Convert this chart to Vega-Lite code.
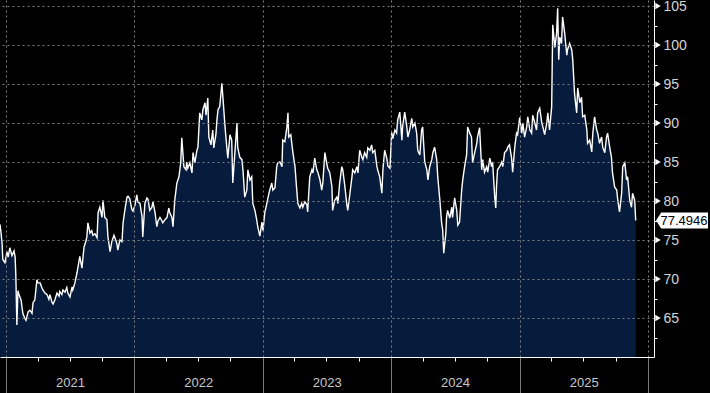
{
  "$schema": "https://vega.github.io/schema/vega-lite/v6.json",
  "width": 654,
  "height": 357,
  "padding": {"left": 0, "top": 0, "right": 56, "bottom": 36},
  "autosize": "none",
  "background": "#000000",
  "config": {
    "view": {"stroke": null},
    "axis": {"labelFont": "Liberation Sans", "labelColor": "#d4d4d4", "labelFontSize": 14}
  },
  "datasets": {
    "series": [
      {"date":"2020-12-15","value":77.0},{"date":"2020-12-18","value":75.9},{"date":"2020-12-21","value":74.5},{"date":"2020-12-23","value":72.5},{"date":"2020-12-29","value":72.1},
      {"date":"2021-01-04","value":73.5},{"date":"2021-01-07","value":72.8},{"date":"2021-01-12","value":74.0},{"date":"2021-01-18","value":73.0},{"date":"2021-01-24","value":73.6},{"date":"2021-01-27","value":72.8},{"date":"2021-01-29","value":70.5},
      {"date":"2021-02-01","value":64.1},{"date":"2021-02-04","value":68.5},{"date":"2021-02-07","value":68.0},{"date":"2021-02-13","value":67.3},{"date":"2021-02-18","value":65.6},{"date":"2021-02-24","value":64.9},{"date":"2021-02-27","value":64.7},
      {"date":"2021-03-05","value":65.8},{"date":"2021-03-10","value":66.0},{"date":"2021-03-16","value":65.6},{"date":"2021-03-19","value":67.0},{"date":"2021-03-24","value":67.3},{"date":"2021-03-30","value":69.9},
      {"date":"2021-04-02","value":69.5},{"date":"2021-04-08","value":69.5},{"date":"2021-04-13","value":68.9},{"date":"2021-04-16","value":68.6},{"date":"2021-04-22","value":68.2},{"date":"2021-04-28","value":68.0},
      {"date":"2021-05-03","value":67.4},{"date":"2021-05-06","value":68.0},{"date":"2021-05-12","value":67.0},{"date":"2021-05-15","value":66.8},{"date":"2021-05-20","value":67.3},{"date":"2021-05-26","value":68.2},
      {"date":"2021-06-01","value":67.8},{"date":"2021-06-03","value":68.4},{"date":"2021-06-09","value":68.0},{"date":"2021-06-12","value":68.6},{"date":"2021-06-18","value":68.3},{"date":"2021-06-23","value":68.9},{"date":"2021-06-26","value":68.2},
      {"date":"2021-07-02","value":67.7},{"date":"2021-07-08","value":69.0},{"date":"2021-07-10","value":68.6},{"date":"2021-07-16","value":69.5},{"date":"2021-07-22","value":70.8},{"date":"2021-07-28","value":72.4},{"date":"2021-07-30","value":72.9},
      {"date":"2021-08-05","value":71.4},{"date":"2021-08-11","value":74.1},{"date":"2021-08-16","value":74.8},{"date":"2021-08-19","value":75.4},{"date":"2021-08-22","value":77.2},{"date":"2021-08-28","value":75.9},
      {"date":"2021-09-02","value":76.2},{"date":"2021-09-05","value":75.6},{"date":"2021-09-11","value":75.8},{"date":"2021-09-17","value":75.3},{"date":"2021-09-20","value":78.5},{"date":"2021-09-25","value":79.2},
      {"date":"2021-10-01","value":77.9},{"date":"2021-10-04","value":80.1},{"date":"2021-10-09","value":77.9},{"date":"2021-10-15","value":77.6},{"date":"2021-10-18","value":75.4},{"date":"2021-10-24","value":73.5},{"date":"2021-10-29","value":74.8},
      {"date":"2021-11-04","value":75.6},{"date":"2021-11-10","value":74.9},{"date":"2021-11-13","value":74.4},{"date":"2021-11-15","value":73.7},{"date":"2021-11-21","value":75.0},{"date":"2021-11-27","value":74.8},{"date":"2021-11-30","value":77.2},
      {"date":"2021-12-05","value":78.8},{"date":"2021-12-11","value":80.5},{"date":"2021-12-14","value":80.6},{"date":"2021-12-19","value":80.3},{"date":"2021-12-25","value":78.9},{"date":"2021-12-28","value":78.7},
      {"date":"2022-01-03","value":79.5},{"date":"2022-01-08","value":80.8},{"date":"2022-01-11","value":79.9},{"date":"2022-01-17","value":79.7},{"date":"2022-01-23","value":78.0},{"date":"2022-01-25","value":75.4},{"date":"2022-01-31","value":79.7},
      {"date":"2022-02-06","value":80.4},{"date":"2022-02-09","value":80.2},{"date":"2022-02-14","value":78.8},{"date":"2022-02-20","value":79.2},{"date":"2022-02-23","value":79.9},
      {"date":"2022-03-01","value":78.5},{"date":"2022-03-06","value":76.7},{"date":"2022-03-09","value":77.4},{"date":"2022-03-15","value":77.9},{"date":"2022-03-20","value":77.5},{"date":"2022-03-23","value":77.2},{"date":"2022-03-29","value":77.6},
      {"date":"2022-04-04","value":77.9},{"date":"2022-04-09","value":79.1},{"date":"2022-04-12","value":78.5},{"date":"2022-04-18","value":77.9},{"date":"2022-04-21","value":76.7},{"date":"2022-04-26","value":80.1},
      {"date":"2022-05-02","value":82.3},{"date":"2022-05-08","value":83.1},{"date":"2022-05-13","value":84.9},{"date":"2022-05-16","value":88.1},{"date":"2022-05-22","value":84.4},{"date":"2022-05-28","value":84.0},{"date":"2022-05-30","value":85.0},
      {"date":"2022-06-02","value":84.2},{"date":"2022-06-08","value":84.9},{"date":"2022-06-14","value":83.6},{"date":"2022-06-17","value":86.2},{"date":"2022-06-22","value":84.9},{"date":"2022-06-28","value":86.5},
      {"date":"2022-07-01","value":86.9},{"date":"2022-07-06","value":91.3},{"date":"2022-07-12","value":90.4},{"date":"2022-07-15","value":91.7},{"date":"2022-07-21","value":92.6},{"date":"2022-07-24","value":91.0},{"date":"2022-07-29","value":93.2},
      {"date":"2022-08-01","value":88.2},{"date":"2022-08-07","value":87.2},{"date":"2022-08-12","value":89.1},{"date":"2022-08-15","value":86.8},{"date":"2022-08-21","value":88.5},{"date":"2022-08-24","value":90.4},{"date":"2022-08-27","value":91.7},
      {"date":"2022-09-01","value":92.1},{"date":"2022-09-07","value":95.1},{"date":"2022-09-10","value":93.3},{"date":"2022-09-16","value":89.5},{"date":"2022-09-21","value":86.9},{"date":"2022-09-24","value":85.5},{"date":"2022-09-30","value":88.5},
      {"date":"2022-10-05","value":87.8},{"date":"2022-10-08","value":82.3},{"date":"2022-10-14","value":86.2},{"date":"2022-10-20","value":90.0},{"date":"2022-10-22","value":86.9},{"date":"2022-10-28","value":85.6},
      {"date":"2022-11-03","value":85.3},{"date":"2022-11-06","value":84.0},{"date":"2022-11-11","value":80.5},{"date":"2022-11-17","value":81.4},{"date":"2022-11-20","value":84.0},{"date":"2022-11-26","value":82.7},
      {"date":"2022-12-01","value":83.1},{"date":"2022-12-04","value":79.7},{"date":"2022-12-10","value":78.8},{"date":"2022-12-15","value":77.6},{"date":"2022-12-18","value":76.7},{"date":"2022-12-24","value":75.5},{"date":"2022-12-30","value":77.3},
      {"date":"2023-01-02","value":76.2},{"date":"2023-01-07","value":78.5},{"date":"2023-01-13","value":79.7},{"date":"2023-01-16","value":80.4},{"date":"2023-01-21","value":81.4},{"date":"2023-01-27","value":82.3},{"date":"2023-01-30","value":81.4},
      {"date":"2023-02-05","value":81.7},{"date":"2023-02-10","value":84.4},{"date":"2023-02-13","value":84.9},{"date":"2023-02-19","value":85.0},{"date":"2023-02-25","value":84.4},{"date":"2023-02-27","value":87.8},
      {"date":"2023-03-05","value":87.6},{"date":"2023-03-11","value":89.5},{"date":"2023-03-14","value":91.3},{"date":"2023-03-16","value":88.2},{"date":"2023-03-22","value":88.5},{"date":"2023-03-28","value":86.2},
      {"date":"2023-04-03","value":84.4},{"date":"2023-04-08","value":81.4},{"date":"2023-04-11","value":79.7},{"date":"2023-04-17","value":79.1},{"date":"2023-04-22","value":79.7},{"date":"2023-04-25","value":79.2},
      {"date":"2023-05-01","value":79.9},{"date":"2023-05-07","value":79.5},{"date":"2023-05-09","value":78.6},{"date":"2023-05-15","value":83.1},{"date":"2023-05-21","value":84.0},{"date":"2023-05-24","value":83.6},{"date":"2023-05-29","value":85.5},
      {"date":"2023-06-04","value":84.0},{"date":"2023-06-07","value":83.7},{"date":"2023-06-13","value":82.7},{"date":"2023-06-18","value":81.4},{"date":"2023-06-21","value":82.3},{"date":"2023-06-27","value":86.2},
      {"date":"2023-07-02","value":84.9},{"date":"2023-07-05","value":84.2},{"date":"2023-07-11","value":83.6},{"date":"2023-07-17","value":81.8},{"date":"2023-07-19","value":78.8},{"date":"2023-07-25","value":80.1},{"date":"2023-07-31","value":80.5},
      {"date":"2023-08-03","value":79.7},{"date":"2023-08-08","value":82.3},{"date":"2023-08-14","value":84.4},{"date":"2023-08-17","value":84.0},{"date":"2023-08-23","value":81.8},{"date":"2023-08-28","value":79.7},{"date":"2023-08-31","value":78.8},
      {"date":"2023-09-06","value":80.9},{"date":"2023-09-12","value":83.1},{"date":"2023-09-14","value":84.0},{"date":"2023-09-20","value":83.6},{"date":"2023-09-26","value":84.4},{"date":"2023-09-29","value":83.6},
      {"date":"2023-10-04","value":86.5},{"date":"2023-10-10","value":85.6},{"date":"2023-10-13","value":85.3},{"date":"2023-10-18","value":86.2},{"date":"2023-10-24","value":85.6},{"date":"2023-10-27","value":86.8},
      {"date":"2023-11-02","value":86.5},{"date":"2023-11-07","value":87.2},{"date":"2023-11-10","value":86.2},{"date":"2023-11-16","value":86.5},{"date":"2023-11-22","value":84.4},{"date":"2023-11-24","value":84.0},{"date":"2023-11-30","value":83.1},
      {"date":"2023-12-06","value":81.0},{"date":"2023-12-09","value":84.0},{"date":"2023-12-14","value":86.5},{"date":"2023-12-20","value":85.5},{"date":"2023-12-23","value":84.5},{"date":"2023-12-29","value":84.2},
      {"date":"2024-01-03","value":88.8},{"date":"2024-01-06","value":88.0},{"date":"2024-01-12","value":89.1},{"date":"2024-01-17","value":88.7},{"date":"2024-01-20","value":90.4},{"date":"2024-01-26","value":91.4},
      {"date":"2024-02-01","value":87.8},{"date":"2024-02-03","value":89.5},{"date":"2024-02-09","value":91.4},{"date":"2024-02-15","value":89.5},{"date":"2024-02-18","value":88.2},{"date":"2024-02-23","value":89.1},{"date":"2024-02-29","value":90.6},
      {"date":"2024-03-03","value":89.5},{"date":"2024-03-09","value":90.0},{"date":"2024-03-14","value":88.7},{"date":"2024-03-17","value":86.5},{"date":"2024-03-23","value":85.9},{"date":"2024-03-28","value":89.1},{"date":"2024-03-31","value":89.5},
      {"date":"2024-04-06","value":85.0},{"date":"2024-04-12","value":84.0},{"date":"2024-04-15","value":82.7},{"date":"2024-04-20","value":84.4},{"date":"2024-04-26","value":85.3},{"date":"2024-04-29","value":86.2},
      {"date":"2024-05-04","value":86.9},{"date":"2024-05-10","value":85.3},{"date":"2024-05-13","value":83.1},{"date":"2024-05-19","value":80.1},{"date":"2024-05-24","value":77.2},{"date":"2024-05-27","value":76.3},{"date":"2024-05-30","value":73.3},
      {"date":"2024-06-05","value":75.9},{"date":"2024-06-07","value":77.9},{"date":"2024-06-10","value":78.8},{"date":"2024-06-16","value":77.8},{"date":"2024-06-22","value":79.2},{"date":"2024-06-24","value":77.9},{"date":"2024-06-30","value":80.4},
      {"date":"2024-07-06","value":78.8},{"date":"2024-07-09","value":76.9},{"date":"2024-07-14","value":77.3},{"date":"2024-07-20","value":81.4},{"date":"2024-07-23","value":82.7},{"date":"2024-07-29","value":84.6},
      {"date":"2024-08-03","value":85.9},{"date":"2024-08-06","value":89.5},{"date":"2024-08-12","value":88.7},{"date":"2024-08-17","value":88.2},{"date":"2024-08-20","value":84.9},{"date":"2024-08-26","value":86.2},
      {"date":"2024-09-01","value":87.4},{"date":"2024-09-03","value":88.2},{"date":"2024-09-09","value":89.4},{"date":"2024-09-15","value":84.0},{"date":"2024-09-18","value":85.3},{"date":"2024-09-23","value":83.7},{"date":"2024-09-29","value":84.4},
      {"date":"2024-10-02","value":83.7},{"date":"2024-10-08","value":85.5},{"date":"2024-10-13","value":84.4},{"date":"2024-10-16","value":85.0},{"date":"2024-10-22","value":80.5},{"date":"2024-10-25","value":79.1},{"date":"2024-10-27","value":81.8},{"date":"2024-10-30","value":84.0},
      {"date":"2024-11-05","value":84.4},{"date":"2024-11-11","value":85.0},{"date":"2024-11-14","value":84.4},{"date":"2024-11-19","value":86.2},{"date":"2024-11-25","value":86.5},{"date":"2024-11-28","value":86.9},
      {"date":"2024-12-03","value":87.2},{"date":"2024-12-09","value":85.5},{"date":"2024-12-12","value":83.7},{"date":"2024-12-18","value":86.9},{"date":"2024-12-23","value":88.7},{"date":"2024-12-26","value":88.5},
      {"date":"2025-01-01","value":90.7},{"date":"2025-01-07","value":88.7},{"date":"2025-01-10","value":90.0},{"date":"2025-01-15","value":88.2},{"date":"2025-01-21","value":89.5},{"date":"2025-01-24","value":90.8},{"date":"2025-01-30","value":89.1},
      {"date":"2025-02-04","value":88.7},{"date":"2025-02-07","value":91.0},{"date":"2025-02-13","value":90.0},{"date":"2025-02-18","value":89.1},{"date":"2025-02-21","value":91.3},{"date":"2025-02-27","value":91.9},
      {"date":"2025-03-05","value":90.0},{"date":"2025-03-08","value":89.5},{"date":"2025-03-13","value":88.5},{"date":"2025-03-19","value":90.0},{"date":"2025-03-22","value":91.3},{"date":"2025-03-27","value":89.1},
      {"date":"2025-04-02","value":92.1},{"date":"2025-04-05","value":102.6},{"date":"2025-04-11","value":99.7},{"date":"2025-04-16","value":101.5},{"date":"2025-04-19","value":104.7},{"date":"2025-04-22","value":98.1},{"date":"2025-04-25","value":101.0},{"date":"2025-04-30","value":100.2},
      {"date":"2025-05-03","value":103.6},{"date":"2025-05-09","value":101.5},{"date":"2025-05-15","value":98.7},{"date":"2025-05-17","value":99.4},{"date":"2025-05-23","value":100.2},{"date":"2025-05-29","value":99.4},
      {"date":"2025-06-01","value":98.1},{"date":"2025-06-06","value":93.8},{"date":"2025-06-12","value":91.3},{"date":"2025-06-15","value":94.5},{"date":"2025-06-21","value":92.6},{"date":"2025-06-26","value":93.3},{"date":"2025-06-29","value":90.8},
      {"date":"2025-07-05","value":91.0},{"date":"2025-07-11","value":89.1},{"date":"2025-07-13","value":87.4},{"date":"2025-07-19","value":87.8},{"date":"2025-07-25","value":86.3},{"date":"2025-07-28","value":88.7},
      {"date":"2025-08-02","value":90.8},{"date":"2025-08-08","value":89.1},{"date":"2025-08-11","value":88.7},{"date":"2025-08-16","value":87.4},{"date":"2025-08-22","value":88.2},{"date":"2025-08-25","value":86.9},{"date":"2025-08-31","value":86.2},
      {"date":"2025-09-05","value":88.2},{"date":"2025-09-08","value":88.7},{"date":"2025-09-14","value":86.9},{"date":"2025-09-19","value":85.6},{"date":"2025-09-22","value":83.6},{"date":"2025-09-28","value":81.8},
      {"date":"2025-10-04","value":81.4},{"date":"2025-10-07","value":80.1},{"date":"2025-10-12","value":78.6},{"date":"2025-10-18","value":81.0},{"date":"2025-10-21","value":84.4},{"date":"2025-10-27","value":84.9},
      {"date":"2025-11-01","value":82.7},{"date":"2025-11-04","value":83.1},{"date":"2025-11-10","value":80.1},{"date":"2025-11-15","value":79.2},{"date":"2025-11-18","value":81.0},{"date":"2025-11-24","value":80.1},{"date":"2025-11-27","value":77.4946}
    ],
    "yticks": [{"v":65},{"v":70},{"v":75},{"v":80},{"v":85},{"v":90},{"v":95},{"v":100},{"v":105}],
    "last": [{"date":"2025-11-27","value":77.4946}]
  },
  "layer": [
    {
      "data": {"name": "series"},
      "mark": {"type": "area", "color": "#071c3c", "clip": true},
      "encoding": {
        "x": {
          "field": "date", "type": "temporal",
          "scale": {"type": "utc", "domain": [{"year":2020,"month":12,"date":15,"utc":true},{"year":2026,"month":1,"date":18,"utc":true}]},
          "axis": {
            "title": null, "orient": "bottom", "zindex": 1,
            "values": [{"year":2021,"month":1,"date":1,"utc":true},{"year":2022,"month":1,"date":1,"utc":true},{"year":2023,"month":1,"date":1,"utc":true},{"year":2024,"month":1,"date":1,"utc":true},{"year":2025,"month":1,"date":1,"utc":true},{"year":2026,"month":1,"date":1,"utc":true}],
            "labelExpr": "utcyear(datum.value) >= 2026 ? '' : utcFormat(datum.value, '%Y')",
            "labelOffset": 64, "labelPadding": -17, "labelFlush": false, "labelOverlap": false, "labelBound": false,
            "labelFontSize": 13, "labelColor": "#c8c8c8",
            "tickSize": 36, "tickColor": "#7a7a7a", "tickWidth": 1,
            "domain": true, "domainColor": "#ffffff", "domainWidth": 1,
            "grid": true, "gridColor": "#808080", "gridDash": [2, 3], "gridWidth": 1
          }
        },
        "y": {
          "field": "value", "type": "quantitative",
          "scale": {"domain": [60, 105.77], "zero": false, "nice": false},
          "axis": {
            "title": null, "orient": "right", "zindex": 1,
            "values": [65, 70, 75, 80, 85, 90, 95, 100, 105],
            "ticks": false, "labelPadding": 9, "labelFlush": false, "labelOverlap": false, "labelBound": false,
            "domain": true, "domainColor": "#ffffff", "domainWidth": 1,
            "grid": true, "gridColor": "#808080", "gridDash": [2, 3], "gridWidth": 1
          }
        }
      }
    },
    {
      "data": {"name": "series"},
      "mark": {"type": "line", "color": "#ffffff", "strokeWidth": 1.4, "clip": true},
      "encoding": {
        "x": {
          "field": "date", "type": "temporal",
          "axis": {
            "title": null, "orient": "bottom", "labels": false, "domain": false, "grid": false,
            "values": [{"year":2021,"month":4,"date":1,"utc":true},{"year":2021,"month":7,"date":1,"utc":true},{"year":2021,"month":10,"date":1,"utc":true},{"year":2022,"month":4,"date":1,"utc":true},{"year":2022,"month":7,"date":1,"utc":true},{"year":2022,"month":10,"date":1,"utc":true},{"year":2023,"month":4,"date":1,"utc":true},{"year":2023,"month":7,"date":1,"utc":true},{"year":2023,"month":10,"date":1,"utc":true},{"year":2024,"month":4,"date":1,"utc":true},{"year":2024,"month":7,"date":1,"utc":true},{"year":2024,"month":10,"date":1,"utc":true},{"year":2025,"month":4,"date":1,"utc":true},{"year":2025,"month":7,"date":1,"utc":true},{"year":2025,"month":10,"date":1,"utc":true}],
            "tickSize": 4, "tickColor": "#ffffff", "tickWidth": 1
          }
        },
        "y": {
          "field": "value", "type": "quantitative",
          "axis": {
            "title": null, "orient": "right", "labels": false, "domain": false, "grid": false,
            "values": [62.5, 67.5, 72.5, 77.5, 82.5, 87.5, 92.5, 97.5, 102.5],
            "tickSize": 3, "tickColor": "#ffffff", "tickWidth": 1
          }
        }
      }
    },
    {
      "data": {"name": "yticks"},
      "mark": {"type": "point", "shape": "triangle-right", "filled": true, "color": "#ffffff", "opacity": 1, "size": 40, "xOffset": 4, "clip": false},
      "encoding": {
        "x": {"datum": {"year":2026,"month":1,"date":18,"utc":true}, "type": "temporal", "axis": null},
        "y": {"field": "v", "type": "quantitative", "axis": null}
      }
    },
    {
      "data": {"name": "last"},
      "mark": {"type": "point", "shape": "M-1,0L-0.8,-0.31L1,-0.31L1,0.31L-0.8,0.31Z", "filled": true, "color": "#ffffff", "opacity": 1, "size": 2704, "xOffset": 28, "clip": false},
      "encoding": {
        "x": {"datum": {"year":2026,"month":1,"date":18,"utc":true}, "type": "temporal", "axis": null},
        "y": {"field": "value", "type": "quantitative", "axis": null}
      }
    },
    {
      "data": {"name": "last"},
      "mark": {"type": "text", "color": "#000000", "font": "Liberation Sans", "fontSize": 13, "align": "center", "baseline": "middle", "xOffset": 30, "clip": false},
      "encoding": {
        "x": {"datum": {"year":2026,"month":1,"date":18,"utc":true}, "type": "temporal", "axis": null},
        "y": {"field": "value", "type": "quantitative", "axis": null},
        "text": {"field": "value", "type": "quantitative", "format": ".4f"}
      }
    }
  ],
  "resolve": {"axis": {"x": "independent", "y": "independent"}}
}
